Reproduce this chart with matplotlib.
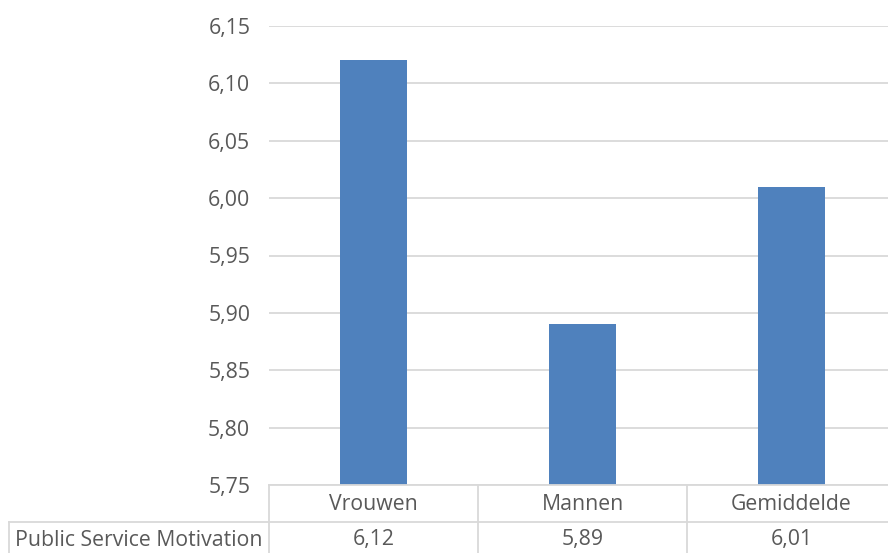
import matplotlib.pyplot as plt
from matplotlib.lines import Line2D

categories = ["Vrouwen", "Mannen", "Gemiddelde"]
series_name = "Public Service Motivation"
values = [6.12, 5.89, 6.01]
yticks = [5.75, 5.80, 5.85, 5.90, 5.95, 6.00, 6.05, 6.10, 6.15]

W, H = 888, 553
bar_color = "#4f81bd"
grid_color = "#d9d9d9"
text_color = "#595959"
fs = 15.3

plt.rcParams["font.family"] = ["Open Sans", "DejaVu Sans"]

fig = plt.figure(figsize=(W / 100, H / 100), dpi=100)

# axes placed in pixel coordinates of the picture (right side runs past the edge)
ax_left, ax_right = 269, 896
ax_top, ax_bottom = 26, 485
ax = fig.add_axes([ax_left / W, 1 - ax_bottom / H,
                   (ax_right - ax_left) / W, (ax_bottom - ax_top) / H])

x = list(range(len(categories)))
ax.bar(x, values, width=0.316, color=bar_color, zorder=3)
ax.set_xlim(-0.5, len(categories) - 0.5)
ax.set_ylim(yticks[0], yticks[-1])
ax.set_yticks(yticks)
ax.set_yticklabels([f"{v:.2f}".replace(".", ",") for v in yticks],
                   fontsize=fs, color=text_color)
ax.tick_params(axis="y", length=0, pad=13.5)
ax.set_xticks([])
ax.grid(axis="y", color=grid_color, linewidth=1.3, zorder=0)
for s in ax.spines.values():
    s.set_visible(False)

# data table below the axes
row_mid = 522
def fx(px):
    return px / W
def fy(py):
    return 1 - py / H

lines = [
    ((ax_left, ax_right), (ax_bottom, ax_bottom)),
    ((9, ax_right), (row_mid, row_mid)),
    ((9, 9), (row_mid, H)),
]
col_w = (ax_right - ax_left) / len(categories)
for i in range(len(categories)):
    xc = ax_left + i * col_w
    lines.append(((xc, xc), (ax_bottom, H)))
for (xs, ys) in lines:
    fig.add_artist(Line2D([fx(v) for v in xs], [fy(v) for v in ys],
                          color=grid_color, linewidth=1.3))

for i, (cat, val) in enumerate(zip(categories, values)):
    xc = ax_left + (i + 0.5) * col_w
    fig.text(fx(xc), fy(504), cat, ha="center",
             va="center", fontsize=fs, color=text_color)
    fig.text(fx(xc), fy(540), f"{val:.2f}".replace(".", ","),
             ha="center", va="center", fontsize=fs, color=text_color)
fig.text(fx(15), fy(540), series_name, ha="left",
         va="center", fontsize=fs, color=text_color)

fig.savefig("out.png", dpi=100)
